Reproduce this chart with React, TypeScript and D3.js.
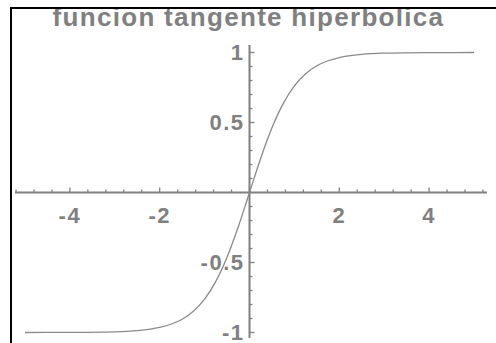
import React from "react";
import * as d3 from "d3";

// Sampled points of y = tanh(x) over [-5, 5]
const xs = [-5, -4, -3, -2.5, -2, -1.75, -1.5, -1.25, -1, -0.75, -0.5, -0.25, 0, 0.25, 0.5, 0.75, 1, 1.25, 1.5, 1.75, 2, 2.5, 3, 4, 5];
const ys = [-1.0, -0.999, -0.995, -0.987, -0.964, -0.941, -0.905, -0.848, -0.762, -0.635, -0.462, -0.245, 0, 0.245, 0.462, 0.635, 0.762, 0.848, 0.905, 0.941, 0.964, 0.987, 0.995, 0.999, 1.0];

const title = "funcion tangente hiperbolica";
const xTickLabels = [-4, -2, 2, 4];
const yTickLabels = [-1, -0.5, 0.5, 1];

const W = 496;
const H = 343;
const GRAY = "#808080";

export default function App() {
  const x = d3.scaleLinear().domain([-5, 5]).range([25, 474]);
  const y = d3.scaleLinear().domain([-1, 1]).range([332.5, 52.5]);

  const line = d3
    .line<number>()
    .x((_, i) => x(xs[i]))
    .y((d) => y(d))
    .curve(d3.curveMonotoneX);

  const x0 = x(0);
  const y0 = y(0);

  const xMinor = d3.range(-13, 14).map((k) => k * 0.4);
  const yMinor = d3.range(-10, 11).map((k) => k * 0.1);

  return (
    <svg
      width={W}
      height={H}
      style={{ position: "absolute", left: 0, top: 0, background: "#fff" }}
      fontFamily="'Liberation Sans', Arial, sans-serif"
    >
      <defs>
        <clipPath id="inner">
          <rect x={12} y={9} width={W - 12} height={H - 9} />
        </clipPath>
      </defs>
      <g clipPath="url(#inner)">
        <text
          x={248.5}
          y={26}
          textAnchor="middle"
          fontSize={26}
          fontWeight="bold"
          letterSpacing={1.3}
          fill={GRAY}
        >
          {title}
        </text>

        {/* x axis */}
        <line x1={15} x2={487} y1={y0} y2={y0} stroke={GRAY} strokeWidth={2} />
        {xMinor.map((v) => {
          const major = Math.abs(Math.round(v) - v) < 1e-6 && Math.round(v) % 2 === 0;
          return (
            <line
              key={"xt" + v}
              x1={x(v)}
              x2={x(v)}
              y1={y0}
              y2={y0 - (major ? 5 : 3)}
              stroke={GRAY}
              strokeWidth={1.3}
            />
          );
        })}
        {xTickLabels.map((v) => (
          <text
            key={"xl" + v}
            x={x(v)}
            y={223}
            textAnchor="middle"
            fontSize={22}
            fontWeight="bold"
            letterSpacing={1.5}
            fill={GRAY}
          >
            {String(v)}
          </text>
        ))}

        {/* y axis */}
        <line x1={x0} x2={x0} y1={45} y2={338} stroke={GRAY} strokeWidth={2} />
        {yMinor.map((v) => {
          const major = Math.abs(Math.round(v * 2) - v * 2) < 1e-6 && Math.abs(v) > 1e-6;
          return (
            <line
              key={"yt" + v.toFixed(1)}
              x1={x0}
              x2={x0 + (major ? 5 : 3)}
              y1={y(v)}
              y2={y(v)}
              stroke={GRAY}
              strokeWidth={1.3}
            />
          );
        })}
        {yTickLabels.map((v) => (
          <text
            key={"yl" + v}
            x={x0 - 5}
            y={y(v) + 7}
            textAnchor="end"
            fontSize={22}
            fontWeight="bold"
            letterSpacing={1.5}
            fill={GRAY}
          >
            {String(v)}
          </text>
        ))}

        {/* tanh curve */}
        <path d={line(ys) || ""} fill="none" stroke="#8a8a8a" strokeWidth={1.3} />
      </g>

      {/* window frame */}
      <line x1={11} x2={11} y1={7} y2={H} stroke="#000" strokeWidth={2} />
      <line x1={10} x2={W} y1={8} y2={8} stroke="#000" strokeWidth={2} />
    </svg>
  );
}
